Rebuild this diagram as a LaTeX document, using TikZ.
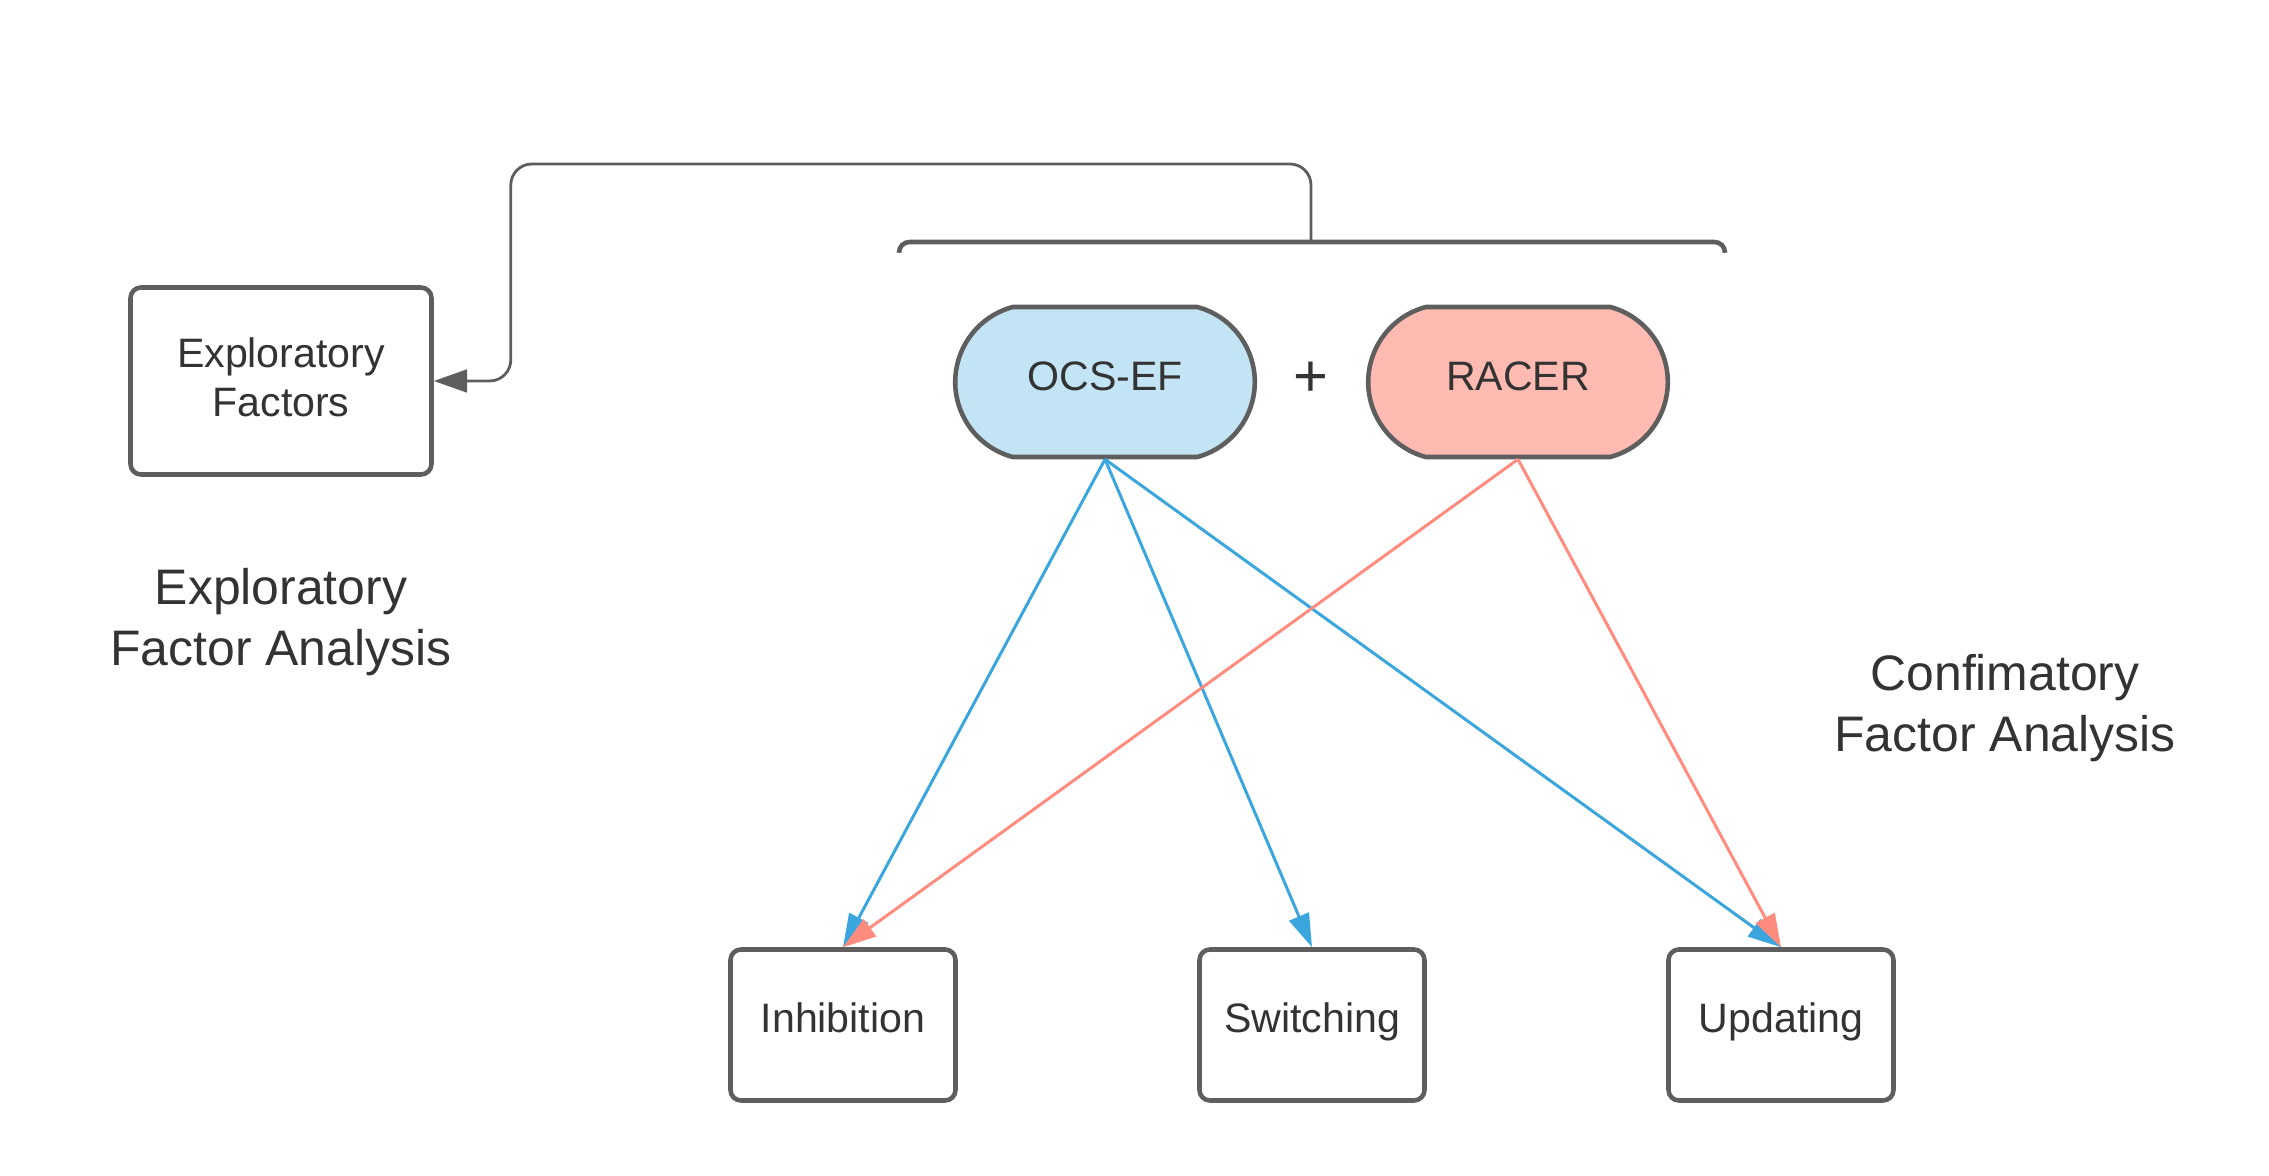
\documentclass[tikz,border=0pt]{standalone}
\usepackage{fontspec}
\setmainfont{Liberation Sans}
\usepackage{tikz}
\usetikzlibrary{arrows.meta, positioning, shapes.misc}
\definecolor{efaline}{HTML}{5E5E5E}
\definecolor{efatext}{HTML}{333333}
\definecolor{ocsblue}{HTML}{3AA6DD}
\definecolor{ocsbluelight}{HTML}{C3E4F5}
\definecolor{racerred}{HTML}{FF8C7E}
\definecolor{racerredlight}{HTML}{FFBBB1}

\begin{document}
\begin{tikzpicture}[
  fbox/.style={draw=efaline, line width=1.3pt, rounded corners=3pt, fill=white, align=center, text=efatext, font=\fontsize{11.7}{14}\selectfont, inner sep=0pt},
  mbox/.style={fbox, minimum width=2.25cm, minimum height=1.51cm, text height=8.4pt, text depth=4pt},
  pill/.style={rounded rectangle, rounded rectangle arc length=150, draw=efaline, line width=1.3pt, minimum width=3.23cm, minimum height=1.5cm, text height=8.4pt, text depth=3.3pt, text=efatext, font=\fontsize{11.7}{14}\selectfont},
  bl/.style={fill=ocsbluelight},
  rd/.style={fill=racerredlight},
  lbl/.style={align=center, text=efatext, font=\fontsize{14.2}{17.4}\selectfont},
  bload/.style={color=ocsblue, line width=0.85pt, -{Triangle[length=9.5pt, width=6pt]}},
  rload/.style={color=racerred, line width=0.85pt, -{Triangle[length=9.5pt, width=6pt]}}
]
\useasboundingbox (0,0) rectangle (22.69,-11.76);
\node[fbox, minimum width=3.01cm, minimum height=1.87cm, text depth=2.3pt] (efa) at (2.81,-3.81) {Exploratory\\Factors};
\node[pill, bl] (ocs) at (11.05,-3.82) {OCS-EF};
\node[pill, rd] (racer) at (15.18,-3.82) {RACER};
\node[text=efatext, font=\fontsize{17}{20}\selectfont] (plus) at (13.11,-3.79) {+};
\node[mbox] (inh) at (8.43,-10.25) {Inhibition};
\node[mbox] (swi) at (13.12,-10.25) {Switching};
\node[mbox] (upd) at (17.81,-10.25) {Updating};
\node[lbl] (efalbl) at (2.81,-6.22) {Exploratory\\Factor Analysis};
\node[lbl] (cfalbl) at (20.05,-7.08) {Confimatory\\Factor Analysis};
% bracket over both measures
\coordinate (brkl) at (8.99,-2.52);
\coordinate (brkr) at (17.25,-2.52);
\coordinate (brk) at (13.11,-2.42);
\draw[efaline, line width=1.3pt, rounded corners=3pt] (brkl) |- (brk) -| (brkr);
\draw[efaline, line width=0.8pt, rounded corners=6pt, -{Triangle[length=9.5pt, width=6.5pt]}] (brk) -- ++(0,0.78) -| ([xshift=0.77cm]efa.east) -- (efa.east);
% loadings
\draw[bload] (ocs.south) -- (inh.north);
\draw[bload] (ocs.south) -- (swi.north);
\draw[bload] (ocs.south) -- (upd.north);
\draw[rload] (racer.south) -- (inh.north);
\draw[rload] (racer.south) -- (upd.north);
\end{tikzpicture}
\end{document}
